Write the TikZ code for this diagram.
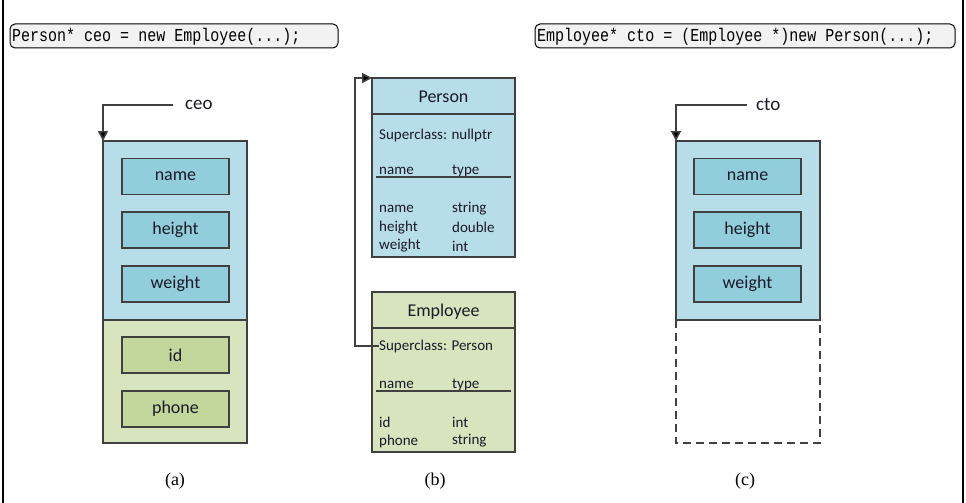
\documentclass[tikz,border=0pt]{standalone}
\usepackage{fontspec}
\setmainfont{Liberation Serif}
\newfontfamily\calfont{Carlito}
\newfontfamily\codefont[FakeStretch=0.82]{Liberation Mono}
\usetikzlibrary{arrows.meta}
\definecolor{boxgray}{HTML}{404040}
\definecolor{blueout}{HTML}{B7DDE8}
\definecolor{bluein}{HTML}{92CDDC}
\definecolor{greenout}{HTML}{D7E4BD}
\definecolor{greenin}{HTML}{C3D69B}
\definecolor{txt}{HTML}{1A1A28}
\definecolor{codebg}{HTML}{F2F2F2}
\tikzset{
  region/.style={draw=boxgray, line width=1.6pt, minimum width=144pt, inner sep=0pt, outer sep=0pt},
  field/.style={draw=boxgray, line width=1.4pt, minimum width=107pt, minimum height=36pt, inner sep=0pt, outer sep=0pt, font=\calfont\fontsize{18}{18}\selectfont, text=txt},
  hdr/.style={font=\calfont\fontsize{18}{18}\selectfont, text=txt, inner sep=0pt},
  body/.style={font=\calfont\fontsize{15}{15}\selectfont, text=txt, inner sep=0pt, anchor=west},
  codebox/.style={draw=black, line width=1pt, fill=codebg, rounded corners=5pt, inner sep=0pt, outer sep=0pt, minimum height=24pt},
  codetext/.style={font=\codefont\fontsize{18.3}{18.3}\selectfont, inner sep=0pt, anchor=west},
  ptr/.style={draw=boxgray, line width=1.6pt, -{Triangle[width=10pt,length=10pt,fill=black]}},
  caption/.style={font=\fontsize{18}{18}\selectfont, inner sep=0pt},
  ptrlbl/.style={font=\calfont\fontsize{19}{19}\selectfont, text=txt, inner sep=0pt, anchor=west},
}
\begin{document}
\begin{tikzpicture}[x=1pt,y=-1pt]
\useasboundingbox (0,0) rectangle (966,503);
% page border lines
\draw[line width=1.2pt] (3,0) -- (3,503);
\draw[line width=1.2pt] (963,0) -- (963,503);

% code boxes
\node[codebox, minimum width=328pt] (codeA) at (174,36) {};
\node[codetext] (codeAt) at (12,36.5) {Person* ceo = new Employee(...);};
\node[codebox, minimum width=420pt] (codeC) at (745,36) {};
\node[codetext] (codeCt) at (537,36.5) {Employee* cto = (Employee *)new Person(...);};

% ---------- (a) ----------
\node[region, fill=blueout, minimum height=179pt] (topA) at (175,230.5) {};
\node[region, fill=greenout, minimum height=123pt] (botA) at (175,381.5) {};
\node[field, fill=bluein] (nameA) at (175.5,176.5) {name};
\node[field, fill=bluein] (heightA) at (175.5,230) {height};
\node[field, fill=bluein] (weightA) at (175.5,284) {weight};
\node[field, fill=greenin] (idA) at (175.5,355) {id};
\node[field, fill=greenin] (phoneA) at (175.5,409) {phone};
\node[ptrlbl] (ceo) at (185,105) {ceo};
\draw[ptr] ([xshift=-12pt]ceo.west) -| (topA.north west);
\node[caption] (capA) at (175,481) {(a)};

% ---------- (c) ----------
\draw[draw=boxgray, line width=1.6pt, dash pattern=on 8pt off 5pt] (676,320) -- (676,443) -- (820,443) -- (820,320);
\node[region, fill=blueout, minimum height=179pt] (topC) at (748,230.5) {};
\node[field, fill=bluein] (nameC) at (747.5,176.5) {name};
\node[field, fill=bluein] (heightC) at (747.5,230) {height};
\node[field, fill=bluein] (weightC) at (747.5,284) {weight};
\node[ptrlbl] (cto) at (756,105) {cto};
\draw[ptr] ([xshift=-9pt]cto.west) -| (topC.north west);
\node[caption] (capC) at (745,481) {(c)};

% ---------- (b) ----------
\node[draw=boxgray, line width=1.6pt, fill=blueout, minimum width=143pt, minimum height=36pt, inner sep=0pt, outer sep=0pt] (personH) at (443.5,96) {};
\node[draw=boxgray, line width=1.6pt, fill=blueout, minimum width=143pt, minimum height=143pt, inner sep=0pt, outer sep=0pt] (personB) at (443.5,185.5) {};
\node[hdr] (personT) at (443.5,97) {Person};
\node[body] (psup) at (379,135) {Superclass: nullptr};
\node[body] (pn1) at (379,171) {name};
\node[body] (pt1) at (452,171) {type};
\draw[boxgray, line width=1.2pt] (376,177) -- (511,177);
\node[body] (pn2) at (379,209) {name};
\node[body] (pt2) at (452,209) {string};
\node[body] (pn3) at (379,227.5) {height};
\node[body] (pt3) at (452,227.5) {double};
\node[body] (pn4) at (379,246) {weight};
\node[body] (pt4) at (452,246) {int};

\node[draw=boxgray, line width=1.6pt, fill=greenout, minimum width=143pt, minimum height=36pt, inner sep=0pt, outer sep=0pt] (empH) at (443.5,310) {};
\node[draw=boxgray, line width=1.6pt, fill=greenout, minimum width=143pt, minimum height=124pt, inner sep=0pt, outer sep=0pt] (empB) at (443.5,390) {};
\node[hdr] (empT) at (443.5,312) {Employee};
\node[body] (esup) at (379,346) {Superclass: Person};
\node[body] (en1) at (379,385) {name};
\node[body] (et1) at (452,385) {type};
\draw[boxgray, line width=1.2pt] (376,391) -- (511,391);
\node[body] (en2) at (379,422) {id};
\node[body] (et2) at (452,422) {int};
\node[body] (en3) at (379,441) {phone};
\node[body] (et3) at (452,441) {string};

\coordinate (bend) at (355,0);
\draw[ptr] (esup.west) -- (esup.west -| bend) |- (personH.north west);
\node[caption] (capB) at (435,481) {(b)};
\end{tikzpicture}
\end{document}
